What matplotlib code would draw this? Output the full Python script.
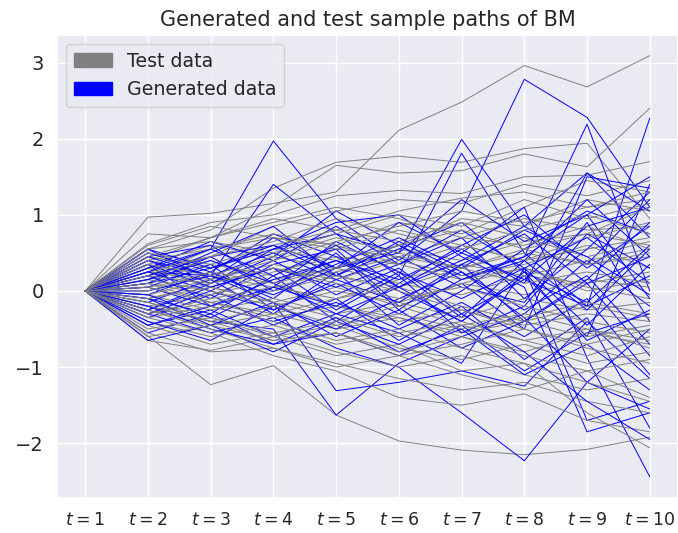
import matplotlib
matplotlib.use('Agg')
import matplotlib.pyplot as plt
import matplotlib.patches as mpatches
import seaborn as sns

# time steps and tick labels
times = list(range(1, 11))
tick_labels = ['$t=%d$' % t for t in times]

# test sample paths (grey)
test_paths = [
    [0, 0.97, 1.02, 1.15, 1.30, 2.11, 2.48, 2.96, 2.68, 3.09],
    [0, -0.59, -1.23, -0.98, -1.63, -1.97, -2.09, -2.15, -2.08, -1.92],
    [0, 0.55, 0.80, 1.35, 1.69, 1.77, 1.69, 1.87, 1.94, 0.95],
    [0, 0.40, 0.70, 1.10, 1.65, 1.55, 1.58, 1.80, 1.63, 2.40],
    [0, 0.62, 0.90, 1.00, 1.25, 1.32, 1.28, 1.50, 1.52, 1.70],
    [0, 0.30, 0.45, 0.85, 1.05, 1.20, 1.15, 1.40, 1.25, 1.45],
    [0, 0.75, 0.70, 0.95, 0.80, 1.05, 1.22, 1.30, 1.10, 1.20],
    [0, 0.20, 0.55, 0.70, 0.60, 0.90, 0.75, 1.10, 1.45, 1.30],
    [0, 0.45, 0.30, 0.55, 0.40, 0.60, 0.95, 0.85, 1.20, 1.05],
    [0, 0.15, 0.35, 0.20, 0.55, 0.45, 0.70, 0.95, 0.80, 0.85],
    [0, 0.35, 0.60, 0.45, 0.30, 0.55, 0.40, 0.65, 0.75, 0.60],
    [0, 0.10, -0.05, 0.25, 0.45, 0.35, 0.60, 0.40, 0.55, 0.70],
    [0, 0.25, 0.15, 0.35, 0.20, 0.05, 0.30, 0.50, 0.35, 0.45],
    [0, -0.10, 0.10, 0.30, 0.15, 0.40, 0.20, 0.35, 0.60, 0.30],
    [0, 0.05, 0.20, 0.05, -0.10, 0.15, 0.35, 0.20, 0.10, 0.25],
    [0, -0.20, -0.05, 0.15, 0.30, 0.10, -0.05, 0.20, 0.40, 0.55],
    [0, 0.30, 0.05, -0.15, 0.05, -0.20, 0.10, -0.05, 0.15, 0.05],
    [0, -0.05, -0.25, -0.10, -0.30, -0.15, -0.35, -0.10, -0.25, -0.15],
    [0, -0.30, -0.15, -0.35, -0.20, -0.40, -0.25, -0.45, -0.30, -0.40],
    [0, 0.20, 0.40, 0.10, -0.20, -0.35, -0.55, -0.40, -0.60, -0.45],
    [0, -0.25, -0.45, -0.30, -0.50, -0.35, -0.60, -0.80, -0.55, -0.70],
    [0, -0.40, -0.60, -0.45, -0.70, -0.55, -0.40, -0.65, -0.85, -0.60],
    [0, -0.15, -0.35, -0.60, -0.45, -0.75, -0.90, -0.70, -0.95, -0.80],
    [0, -0.45, -0.70, -0.55, -0.80, -1.00, -0.85, -1.10, -1.30, -1.15],
    [0, -0.55, -0.80, -0.75, -0.95, -1.15, -1.30, -1.20, -1.45, -1.60],
    [0, -0.35, -0.55, -0.85, -1.05, -1.40, -1.50, -1.35, -1.70, -1.85],
    [0, -0.65, -0.78, -0.60, -0.85, -0.70, -1.05, -0.95, -1.60, -2.06],
    [0, 0.50, 0.35, 0.60, 0.80, 0.65, 0.90, 0.70, 0.45, 0.65],
    [0, 0.60, 0.85, 0.70, 0.55, 0.80, 0.60, 0.40, 0.70, 0.90],
    [0, -0.05, 0.15, 0.40, 0.65, 0.85, 1.05, 0.90, 1.10, 1.30],
    [0, 0.10, -0.15, -0.30, -0.10, 0.05, -0.20, -0.40, -0.20, -0.35],
    [0, -0.20, -0.40, -0.20, 0.00, -0.15, 0.10, 0.30, 0.05, -0.10],
    [0, 0.15, 0.00, -0.20, -0.45, -0.30, -0.50, -0.35, -0.15, -0.30],
    [0, -0.10, 0.05, -0.15, -0.35, -0.60, -0.45, -0.65, -0.50, -0.75],
    [0, 0.40, 0.55, 0.75, 0.60, 0.35, 0.15, 0.30, 0.00, 0.15],
    [0, 0.25, 0.45, 0.65, 0.95, 0.75, 0.55, 0.80, 1.00, 0.75],
    [0, -0.30, -0.10, 0.05, 0.25, 0.45, 0.30, 0.55, 0.35, 0.50],
    [0, 0.05, -0.15, 0.00, 0.20, 0.00, -0.25, -0.50, -0.70, -0.50],
    [0, -0.50, -0.35, -0.55, -0.40, -0.20, -0.45, -0.30, -0.50, -0.65],
    [0, 0.35, 0.20, 0.45, 0.70, 0.50, 0.30, 0.10, 0.25, 0.10],
    [0, -0.15, -0.40, -0.65, -0.55, -0.80, -0.60, -0.85, -1.05, -0.90],
    [0, 0.00, 0.25, 0.10, 0.30, 0.60, 0.80, 0.55, 0.75, 1.10],
    [0, 0.55, 0.65, 0.50, 0.75, 1.00, 0.85, 1.20, 0.95, 1.15],
    [0, -0.25, -0.50, -0.75, -1.00, -0.85, -1.10, -1.30, -1.05, -1.40],
    [0, 0.20, 0.10, 0.30, 0.10, -0.10, 0.05, -0.20, -0.40, -0.55],
    [0, -0.60, -0.45, -0.65, -0.55, -0.85, -0.70, -0.50, -0.75, -0.95],
    [0, 0.45, 0.70, 0.90, 1.10, 0.95, 0.70, 0.60, 0.85, 0.55],
    [0, -0.35, -0.20, -0.40, -0.65, -0.50, -0.75, -0.95, -1.20, -1.45],
]

# generated sample paths (blue)
gen_paths = [
    [0, 0.30, 0.55, 1.97, 0.95, 0.40, 1.05, 2.78, 2.28, 1.10],
    [0, 0.10, 0.45, 0.60, 0.30, 0.50, 1.99, 0.85, 1.55, 0.70],
    [0, 0.25, 0.20, 1.40, 0.75, 0.20, 1.81, 0.50, -0.20, 2.27],
    [0, -0.25, 0.10, 0.45, 1.05, 0.60, 0.20, 0.45, 2.19, 0.00],
    [0, -0.20, -0.40, -0.50, -1.63, -0.95, -0.60, -0.30, 0.40, -0.20],
    [0, -0.30, -0.55, -0.35, -0.75, -1.00, -1.60, -2.23, -1.20, -0.50],
    [0, 0.40, 0.20, -0.15, -1.31, -1.20, -1.05, -1.25, -0.40, -1.15],
    [0, 0.55, 0.15, 0.70, 0.30, 0.90, 0.50, 1.10, -0.88, -2.44],
    [0, -0.45, -0.25, -0.60, -0.30, -0.55, -0.95, 0.30, -1.70, -1.45],
    [0, 0.20, -0.10, 0.35, 0.55, -0.20, 0.10, -0.50, 1.50, 1.35],
    [0, 0.45, 0.60, 0.10, 0.40, 0.00, -0.40, 0.20, -0.60, 1.40],
    [0, 0.05, 0.35, -0.25, 0.15, 0.45, 0.05, -0.15, 0.90, -0.40],
    [0, -0.10, -0.30, 0.20, -0.40, 0.10, 0.60, 1.00, 0.30, 0.85],
    [0, 0.35, -0.20, 0.05, 0.65, 0.25, -0.35, 0.40, 1.20, 0.45],
    [0, -0.35, -0.05, -0.45, -0.10, -0.65, -0.20, -0.90, -0.35, -1.80],
    [0, 0.15, 0.50, 0.85, 0.20, 0.55, 0.90, 0.25, -0.15, 0.60],
    [0, -0.05, 0.25, -0.10, 0.50, -0.25, 0.35, -0.40, 0.10, -0.85],
    [0, 0.50, 0.25, 0.75, 0.45, 0.05, 0.40, 0.85, 0.35, 1.20],
    [0, -0.55, -0.30, -0.70, -0.55, -0.85, -0.45, -1.05, -0.55, -0.30],
    [0, 0.25, 0.00, 0.40, -0.05, 0.30, -0.30, 0.15, -0.20, 0.20],
    [0, -0.15, 0.15, -0.30, 0.25, -0.45, 0.00, 0.55, 1.05, 0.75],
    [0, 0.10, 0.30, 0.55, 0.90, 1.00, 0.45, 0.05, -1.85, -1.60],
    [0, -0.40, -0.65, -0.20, -0.50, -0.10, 0.25, -0.35, -1.20, -1.55],
    [0, 0.30, 0.65, 0.40, 0.85, 0.35, 0.70, -0.10, 0.55, 1.30],
    [0, -0.25, 0.05, 0.30, -0.25, 0.20, -0.55, -0.20, 0.75, 0.30],
    [0, 0.05, -0.20, -0.40, -0.15, -0.50, -0.15, -0.60, -0.10, -1.10],
    [0, 0.40, 0.10, 0.55, 0.75, 0.50, 1.20, 0.65, 1.00, 1.50],
    [0, -0.65, -0.45, -0.80, -0.40, -0.70, -0.30, -0.80, -1.45, -1.95],
    [0, 0.20, 0.45, 0.00, 0.35, 0.70, 0.30, 0.80, 0.45, -0.05],
    [0, -0.10, -0.45, -0.15, -0.60, -0.25, -0.75, -0.40, 0.15, 0.90],
    [0, 0.35, 0.05, 0.30, 0.05, 0.35, 0.80, 0.30, 0.70, 0.10],
    [0, -0.30, 0.00, -0.25, 0.10, -0.30, 0.15, 0.40, -0.25, 0.55],
    [0, 0.15, 0.40, 0.10, -0.30, 0.05, -0.40, 0.25, -0.65, -0.25],
    [0, -0.45, -0.20, 0.15, 0.40, 0.15, 0.55, 0.10, 1.55, 1.05],
    [0, 0.55, 0.30, 0.60, 0.20, 0.65, 0.25, -0.25, 0.20, -0.70],
    [0, -0.20, -0.50, -0.70, -0.35, -0.80, -0.50, -1.10, -0.70, -1.30],
    [0, 0.00, 0.20, 0.50, 0.15, -0.15, 0.35, 0.75, 0.10, 0.45],
    [0, 0.45, 0.20, -0.05, 0.30, 0.60, 0.15, 0.45, 1.00, -0.10],
    [0, -0.05, -0.35, 0.05, -0.20, 0.25, -0.10, 0.30, -0.45, 0.35],
    [0, 0.25, 0.55, 0.20, 0.60, 0.05, 0.50, 0.15, 0.85, 1.10],
]

sns.set_theme(style='darkgrid')

fig = plt.figure(figsize=(6.78, 5.33), dpi=100)
ax = fig.add_axes([0.084, 0.066, 0.916, 0.869])

n = max(len(test_paths), len(gen_paths))
for i in range(n):
    if i < len(test_paths):
        ax.plot(times, test_paths[i], color='grey', lw=0.7)
    if i < len(gen_paths):
        ax.plot(times, gen_paths[i], color='blue', lw=0.7)

ax.set_xticks(times)
ax.set_xticklabels(tick_labels, fontsize=12.5)
ax.tick_params(axis='y', labelsize=14)
ax.set_title('Generated and test sample paths of BM', fontsize=15)

handles = [mpatches.Patch(color='grey', label='Test data'),
           mpatches.Patch(color='blue', label='Generated data')]
ax.legend(handles=handles, loc='upper left', fontsize=13.7)

fig.savefig('out.png', dpi=100)
